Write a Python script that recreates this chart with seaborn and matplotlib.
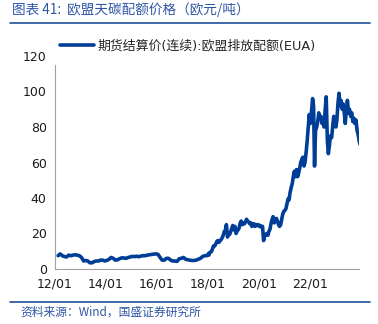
import matplotlib
matplotlib.use("Agg")
import matplotlib.pyplot as plt
import matplotlib.dates as mdates
import seaborn as sns
import pandas as pd
import numpy as np

# monthly prices 2012-2017 (EUR/t)
monthly_2012_2017 = [
    7.5, 8.5, 7.5, 7.0, 6.8, 7.8, 7.5, 7.8, 8.0, 7.8, 7.5, 6.5,
    4.5, 4.8, 4.5, 3.5, 3.5, 4.2, 4.5, 4.5, 5.0, 5.0, 4.5, 4.9,
    5.5, 6.5, 6.0, 5.0, 5.2, 5.8, 6.3, 6.2, 6.0, 6.5, 6.8, 7.1,
    7.0, 7.2, 6.9, 7.3, 7.5, 7.5, 7.8, 8.0, 8.2, 8.4, 8.5, 8.3,
    6.5, 5.0, 5.0, 6.0, 6.0, 5.0, 4.5, 4.5, 4.3, 5.8, 6.0, 6.5,
    5.5, 5.2, 5.0, 4.8, 4.8, 5.0, 5.5, 6.0, 7.0, 7.5, 7.5, 7.9,
]
# half-monthly prices 2018-2023 (EUR/t)
halfmonthly_2018_2023 = [
    8.5, 9.2, 9.5, 10.0, 11.5, 13.0, 13.0, 14.0, 15.5, 16.0, 15.0, 16.0,
    16.5, 17.5, 19.0, 21.0, 22.0, 25.0, 18.0, 20.0, 19.5, 21.0, 23.0, 24.5,
    22.0, 24.0, 20.0, 21.5, 22.0, 23.0, 26.0, 27.0, 25.0, 26.0, 25.5, 26.5,
    28.0, 27.0, 26.5, 25.5, 26.0, 24.0, 24.5, 25.5, 24.0, 25.0, 24.5, 25.0,
    24.0, 24.5, 23.5, 24.0, 16.0, 18.5, 19.5, 20.0, 19.0, 21.0, 22.5, 25.5,
    28.0, 29.5, 26.0, 28.0, 28.5, 27.0, 25.0, 24.0, 25.0, 28.0, 31.0, 32.5,
    33.0, 34.0, 37.0, 39.5, 39.0, 43.0, 46.0, 48.0, 52.0, 55.0, 52.0, 56.0,
    52.0, 54.0, 57.0, 60.0, 62.0, 63.0, 58.0, 60.0, 66.0, 72.0, 80.0, 87.0,
    82.0, 88.0, 96.0, 92.0, 58.0, 78.0, 80.0, 83.0, 88.0, 85.0, 86.0, 82.0,
    84.0, 80.0, 90.0, 97.0, 72.0, 65.0, 70.0, 75.0, 74.0, 80.0, 86.0, 84.0,
    80.0, 84.0, 94.0, 99.0, 92.0, 95.0, 90.0, 93.0, 88.0, 82.0, 90.0, 95.0,
    88.0, 90.0, 86.0, 88.0, 83.0, 85.0, 82.0, 84.0, 78.0, 76.0, 72.0, 70.0,
]
tick_years = ["2012-01-01", "2014-01-01", "2016-01-01", "2018-01-01", "2020-01-01", "2022-01-01"]
y_ticks = [0, 20, 40, 60, 80, 100, 120]
series_name = "期货结算价(连续):欧盟排放配额(EUA)"
title_text = "图表 41:  欧盟天碳配额价格（欧元/吨）"
source_text = "资料来源：Wind，国盛证券研究所"

dates1 = pd.date_range("2012-01-15", periods=len(monthly_2012_2017), freq="MS") + pd.Timedelta(days=14)
dates2 = pd.date_range("2018-01-01", periods=len(halfmonthly_2018_2023), freq="SMS") + pd.Timedelta(days=7)
df = pd.DataFrame({
    "date": list(dates1) + list(dates2),
    "price": monthly_2012_2017 + halfmonthly_2018_2023,
})

sns.set_style("white")
plt.rcParams["font.family"] = ["DejaVu Sans", "Noto Sans CJK SC"]

fig = plt.figure(figsize=(3.78, 3.24), dpi=100)
ax = fig.add_axes([55/378, 1-269/324, (359-55)/378, (269-56)/324])

line_color = "#003D96"
sns.lineplot(data=df, x="date", y="price", ax=ax, color=line_color, linewidth=2.6,
             label=series_name, legend=False)

ax.set_ylim(0, 120)
ax.set_yticks(y_ticks)
ax.set_xlim(pd.Timestamp("2012-01-01"), pd.Timestamp("2023-12-05"))
ax.set_xticks([pd.Timestamp(t) for t in tick_years])
ax.xaxis.set_major_formatter(mdates.DateFormatter("%y/%m"))
ax.set_xlabel("")
ax.set_ylabel("")
for s in ["top", "right"]:
    ax.spines[s].set_visible(False)
for s in ["left", "bottom"]:
    ax.spines[s].set_color("#a0a0a0")
    ax.spines[s].set_linewidth(0.8)
ax.spines["left"].set_bounds(0, 115)
ax.tick_params(axis="x", direction="in", length=3, color="#a0a0a0", labelsize=9, pad=6)
ax.tick_params(axis="y", direction="out", length=0, color="#a0a0a0", labelsize=9, pad=6)
for lab in ax.get_xticklabels() + ax.get_yticklabels():
    lab.set_color("#1a1a1a")

leg = ax.legend(loc="upper left", bbox_to_anchor=(0.0, 1.1), frameon=False,
                handlelength=2.6, fontsize=9.3, borderaxespad=0, handletextpad=0.3)
for t in leg.get_texts():
    t.set_fontfamily(["DejaVu Sans", "Noto Sans CJK SC"])

title_color = "#2E56A6"
fig.text(12/378, 1-10/324, title_text, color=title_color, fontsize=9.8, va="center",
         ha="left", family=["Noto Sans CJK SC"], style="italic")
fig.add_artist(plt.Line2D([10/378, 370/378], [1-23/324, 1-23/324], color="#1F4E9A", lw=1.2))
fig.add_artist(plt.Line2D([10/378, 370/378], [1-302/324, 1-302/324], color="#1F4E9A", lw=1.2))
fig.text(20/378, 1-312/324, source_text, color=title_color, fontsize=8.5, va="center",
         ha="left", family=["Noto Sans CJK SC"], style="italic")

fig.savefig("out.png", dpi=100)
